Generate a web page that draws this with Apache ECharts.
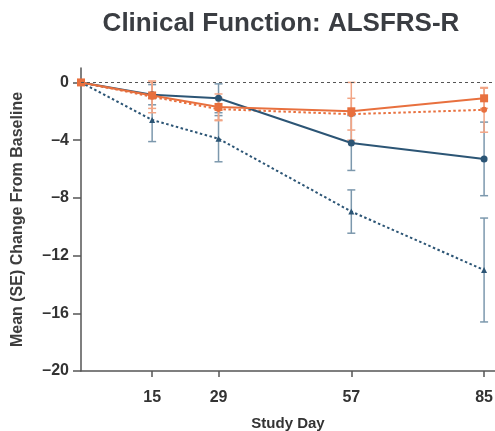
<!DOCTYPE html>
<html>
<head>
<meta charset="utf-8">
<script src="https://cdn.jsdelivr.net/npm/echarts@6/dist/echarts.min.js"></script>
<style>
html,body{margin:0;padding:0;background:#fff;}
#c{width:495px;height:431px;}
</style>
</head>
<body>
<div id="c"></div>
<script>
var studyDays = [0, 15, 29, 57, 85];
var xTickDays = [15, 29, 57, 85];
var yTicks = [-20, -16, -12, -8, -4, 0];

var orangeSolidMean = [0, -0.9, -1.7, -2.0, -1.1];
var orangeSolidSE   = [0, 0.9, 0.9, 2.0, 0.7];
var orangeDotMean   = [0, -1.0, -1.85, -2.2, -1.9];
var orangeDotSE     = [0, 1.1, 0.8, 1.1, 1.55];
var blueSolidMean   = [0, -0.85, -1.1, -4.2, -5.3];
var blueSolidSE     = [0, 0.7, 1.0, 1.9, 2.55];
var blueDotMean     = [0, -2.6, -3.9, -8.95, -13.0];
var blueDotSE       = [0, 1.5, 1.6, 1.5, 3.6];

var ORANGE = '#e8703e', ORANGE_LT = '#f2a585';
var BLUE = '#2c5575', BLUE_LT = '#7c98ad';
var FONT = 'Liberation Sans, Arial, sans-serif';

function pts(mean){ return studyDays.map(function(d,i){ return [d, mean[i]]; }); }
function bars(mean, se){
  var out = [];
  studyDays.forEach(function(d,i){ if (se[i] > 0) out.push([d, mean[i]-se[i], mean[i]+se[i]]); });
  return out;
}
function errSeries(mean, se, color){
  return {
    type: 'custom', z: 1, silent: true,
    data: bars(mean, se),
    renderItem: function(params, api){
      var x = api.value(0);
      var a = api.coord([x, api.value(1)]);
      var b = api.coord([x, api.value(2)]);
      var w = 4;
      var st = {stroke: color, lineWidth: 1.5};
      return {type: 'group', children: [
        {type:'line', shape:{x1:a[0], y1:a[1], x2:b[0], y2:b[1]}, style: st},
        {type:'line', shape:{x1:a[0]-w, y1:a[1], x2:a[0]+w, y2:a[1]}, style: st},
        {type:'line', shape:{x1:b[0]-w, y1:b[1], x2:b[0]+w, y2:b[1]}, style: st}
      ]};
    }
  };
}
function lineSeries(mean, color, dotted, symbol, size){
  return {
    type: 'line', z: 3, silent: true,
    data: pts(mean),
    symbol: symbol, symbolSize: size,
    itemStyle: {color: color},
    lineStyle: {color: color, width: 2, type: dotted ? [2.5, 2.5] : 'solid'}
  };
}

var chart = echarts.init(document.getElementById('c'));
chart.setOption({
  animation: false,
  title: {
    text: 'Clinical Function: ALSFRS-R',
    left: 276, textAlign: 'center', top: 6,
    textStyle: {fontFamily: FONT, fontSize: 26, fontWeight: 'bold', color: '#3a3d42'}
  },
  grid: {left: 81, right: 0, top: 68, bottom: 60, containLabel: false, outerBoundsMode: 'none'},
  xAxis: {
    type: 'value', min: 0, max: 87.3,
    name: 'Study Day', nameLocation: 'middle', nameGap: 45,
    nameTextStyle: {fontFamily: FONT, fontSize: 15, fontWeight: 'bold', color: '#333'},
    axisLine: {onZero: false, lineStyle: {color: '#555', width: 1.5}},
    axisTick: {customValues: xTickDays, length: 6, lineStyle: {color: '#555', width: 1.5}},
    axisLabel: {customValues: xTickDays, margin: 19, fontFamily: FONT, fontSize: 16, fontWeight: 'bold', color: '#333'},
    splitLine: {show: false}
  },
  yAxis: {
    type: 'value', min: -20, max: 1,
    name: 'Mean (SE) Change From Baseline', nameLocation: 'middle', nameGap: 55, nameRotate: 90,
    nameTextStyle: {fontFamily: FONT, fontSize: 16, fontWeight: 'bold', color: '#3d3d3d'},
    axisLine: {show: true, lineStyle: {color: '#555', width: 1.5}},
    axisTick: {show: true, customValues: yTicks, length: 8, lineStyle: {color: '#555', width: 1.5}},
    axisLabel: {customValues: yTicks, margin: 12, fontFamily: FONT, fontSize: 16, fontWeight: 'bold', color: '#333',
      formatter: function(v){ return v < 0 ? '\u2013' + Math.abs(v) : String(v); }},
    splitLine: {show: false}
  },
  series: [
    errSeries(blueDotMean, blueDotSE, BLUE_LT),
    errSeries(blueSolidMean, blueSolidSE, BLUE_LT),
    errSeries(orangeDotMean, orangeDotSE, ORANGE_LT),
    errSeries(orangeSolidMean, orangeSolidSE, ORANGE_LT),
    Object.assign(lineSeries(blueDotMean, BLUE, true, 'triangle', 6), {
      markLine: {silent: true, symbol: 'none', label: {show: false},
        lineStyle: {color: '#555', type: [3, 3], width: 1},
        data: [{yAxis: 0}]}
    }),
    lineSeries(orangeDotMean, ORANGE, true, 'circle', 6),
    lineSeries(blueSolidMean, BLUE, false, 'circle', 7),
    lineSeries(orangeSolidMean, ORANGE, false, 'rect', 8)
  ]
});
</script>
</body>
</html>
